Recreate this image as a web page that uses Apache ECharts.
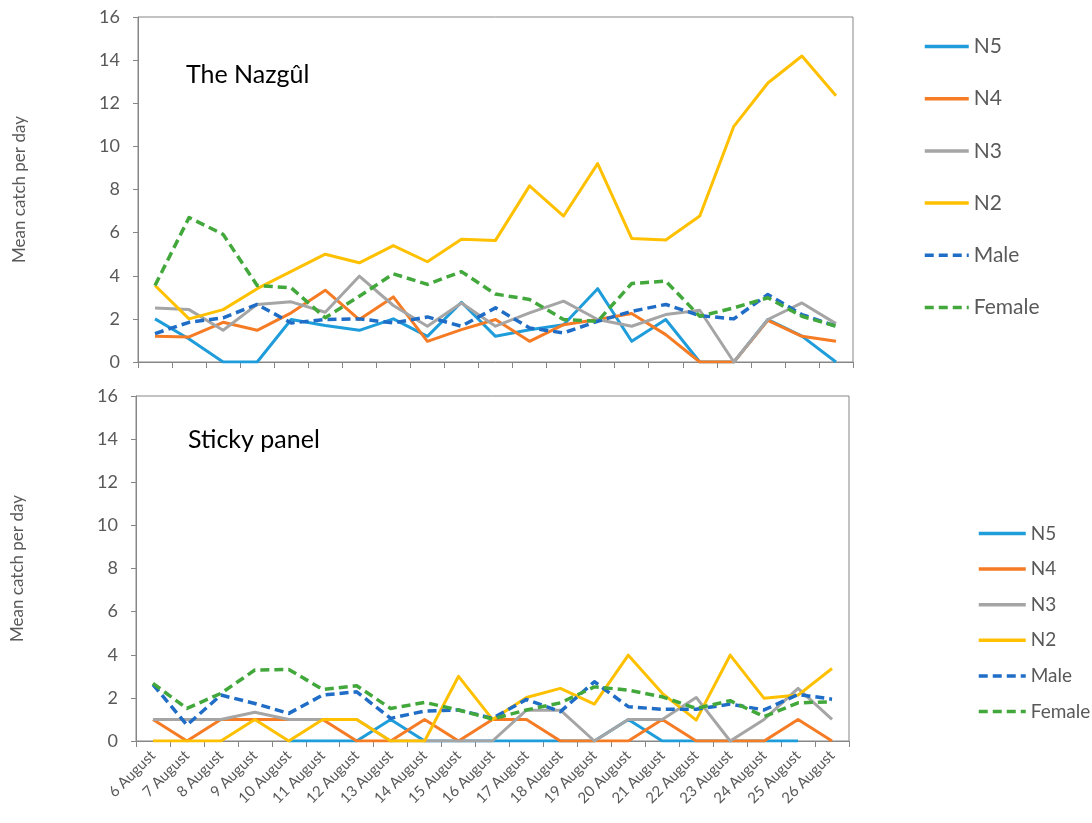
<!DOCTYPE html>
<html>
<head>
<meta charset="utf-8">
<title>Mean catch per day</title>
<script src="https://cdn.jsdelivr.net/npm/echarts@6/dist/echarts.min.js"></script>
<style>
  html, body { margin: 0; padding: 0; background: #fff; }
  #chart { width: 1092px; height: 823px; }
</style>
</head>
<body>
<div id="chart"></div>
<script>
// Sampling days
const days = ['6 August', '7 August', '8 August', '9 August', '10 August', '11 August', '12 August',
  '13 August', '14 August', '15 August', '16 August', '17 August', '18 August', '19 August',
  '20 August', '21 August', '22 August', '23 August', '24 August', '25 August', '26 August'];

// Y-axis ticks (both panels)
const yTicks = [0, 2, 4, 6, 8, 10, 12, 14, 16];

// Panel 1: The Nazgûl
const n5Top = [2.0, 1.07, 0, 0, 1.97, 1.69, 1.47, 2.0, 1.19, 2.77, 1.19, 1.5, 1.73, 3.4, 0.96, 1.97, 0, 0, 1.97, 1.2, 0];
const n4Top = [1.19, 1.16, 1.84, 1.47, 2.28, 3.33, 1.97, 3.02, 0.96, 1.5, 1.97, 0.96, 1.73, 1.97, 2.25, 1.27, 0, 0, 1.93, 1.19, 0.96];
const n3Top = [2.51, 2.43, 1.47, 2.67, 2.79, 2.31, 3.98, 2.62, 1.66, 2.74, 1.66, 2.28, 2.82, 1.97, 1.66, 2.2, 2.4, 0, 1.97, 2.74, 1.78];
const n2Top = [3.55, 2.0, 2.43, 3.4, 4.2, 5.0, 4.6, 5.4, 4.65, 5.69, 5.64, 8.17, 6.77, 9.2, 5.73, 5.66, 6.77, 10.93, 12.94, 14.19, 12.35];
const maleTop = [1.32, 1.84, 2.05, 2.67, 1.81, 1.97, 2.0, 1.81, 2.09, 1.66, 2.51, 1.58, 1.35, 1.89, 2.35, 2.67, 2.15, 2.0, 3.13, 2.2, 1.66];
const femaleTop = [3.55, 6.7, 5.92, 3.55, 3.44, 2.05, 3.05, 4.09, 3.6, 4.19, 3.15, 2.9, 1.97, 1.89, 3.64, 3.75, 2.12, 2.51, 2.98, 2.12, 1.66];

// Panel 2: Sticky panel
const n5Bot = [null, null, null, null, 0, 0, 0, 1, 0, 0, 0, 0, 0, 0, 1, 0, 0, 0, 0, 0, null];
const n4Bot = [1, 0, 1, 1, 1, 1, 0, 0, 1, 0, 1, 1, 0, 0, 0, 1, 0, 0, 0, 1, 0];
const n3Bot = [1, 1, 1, 1.33, 1, 1, 1, 0, 0, 0, 0, 1.43, 1.43, 0, 1, 1, 2.02, 0, 1, 2.44, 1];
const n2Bot = [0, 0, 0, 1, 0, 1, 1, 0, 0, 3, 1, 2.02, 2.44, 1.71, 3.98, 2.21, 0.97, 3.98, 1.98, 2.13, 3.36];
const maleBot = [2.62, 0.74, 2.13, 1.74, 1.28, 2.13, 2.28, 1.05, 1.39, 1.44, 1.05, 1.93, 1.36, 2.75, 1.59, 1.47, 1.47, 1.71, 1.44, 2.16, 1.94];
const femaleBot = [2.67, 1.51, 2.21, 3.29, 3.32, 2.39, 2.56, 1.51, 1.79, 1.44, 1.02, 1.44, 1.77, 2.51, 2.36, 2.05, 1.51, 1.87, 1.13, 1.77, 1.82];

const seriesNames = ['N5', 'N4', 'N3', 'N2', 'Male', 'Female'];
const colors = {
  N5: '#1f9ddb',
  N4: '#f57b25',
  N3: '#a5a5a5',
  N2: '#ffc000',
  Male: '#1f6dc6',
  Female: '#43a83c'
};

const FONT = 'Lato, "Open Sans", sans-serif';
const AXIS_COLOR = '#868686';
const TEXT_COLOR = '#595959';

function lineSeries(name, data, gridIdx) {
  const dashed = name === 'Male' || name === 'Female';
  return {
    name: name,
    type: 'line',
    xAxisIndex: gridIdx,
    yAxisIndex: gridIdx,
    data: data,
    symbol: 'none',
    connectNulls: false,
    animation: false,
    color: colors[name],
    lineStyle: {
      color: colors[name],
      width: dashed ? 3.5 : 3,
      type: dashed ? [9, 5] : 'solid',
      cap: 'butt',
      join: 'round'
    }
  };
}

function yAxis(gridIdx) {
  return {
    type: 'value',
    gridIndex: gridIdx,
    min: yTicks[0],
    max: yTicks[yTicks.length - 1],
    interval: yTicks[1] - yTicks[0],
    name: 'Mean catch per day',
    nameLocation: 'middle',
    nameGap: 110,
    nameTextStyle: { fontFamily: FONT, fontSize: 17, color: TEXT_COLOR },
    axisLine: { show: true, lineStyle: { color: AXIS_COLOR, width: 1 } },
    axisTick: { show: true, length: 5, lineStyle: { color: AXIS_COLOR } },
    axisLabel: { fontFamily: FONT, fontSize: 18, color: TEXT_COLOR, margin: 18 },
    splitLine: { show: false }
  };
}

function xAxis(gridIdx, showLabels) {
  return {
    type: 'category',
    gridIndex: gridIdx,
    data: days,
    boundaryGap: true,
    axisLine: { show: true, onZero: false, lineStyle: { color: AXIS_COLOR, width: 1 } },
    axisTick: { show: true, length: 6, interval: 0, lineStyle: { color: AXIS_COLOR } },
    axisLabel: {
      show: showLabels, interval: 0, rotate: 45, margin: 12,
      fontFamily: FONT, fontSize: 15, color: TEXT_COLOR
    },
    splitLine: { show: false }
  };
}

const topData = { N5: n5Top, N4: n4Top, N3: n3Top, N2: n2Top, Male: maleTop, Female: femaleTop };
const botData = { N5: n5Bot, N4: n4Bot, N3: n3Bot, N2: n2Bot, Male: maleBot, Female: femaleBot };

const series = [];
seriesNames.forEach(n => series.push(lineSeries(n, topData[n], 0)));
seriesNames.forEach(n => series.push(lineSeries(n, botData[n], 1)));

// Legend keys show only the line sample, no marker
const legendMarker = { color: 'rgba(0,0,0,0)', borderWidth: 0, opacity: 0 };
const legendLine = { width: 3.5 };

const chart = echarts.init(document.getElementById('chart'), null, { renderer: 'canvas' });
chart.setOption({
  animation: false,
  backgroundColor: '#ffffff',
  title: [
    { text: 'The Nazgûl', left: 181, top: 57,
      textStyle: { fontFamily: FONT, fontSize: 25, fontWeight: 'normal', color: '#000000' } },
    { text: 'Sticky panel', left: 183, top: 422,
      textStyle: { fontFamily: FONT, fontSize: 25, fontWeight: 'normal', color: '#000000' } }
  ],
  grid: [
    { left: 138, top: 17, width: 715, height: 345, show: true, borderColor: AXIS_COLOR, borderWidth: 1 },
    { left: 136, top: 396, width: 713, height: 345, show: true, borderColor: AXIS_COLOR, borderWidth: 1 }
  ],
  xAxis: [xAxis(0, false), xAxis(1, true)],
  yAxis: [yAxis(0), yAxis(1)],
  legend: [
    {
      orient: 'vertical', left: 918, top: 30,
      itemWidth: 44, itemHeight: 14, itemGap: 29.2,
      itemStyle: legendMarker,
      lineStyle: legendLine,
      data: seriesNames,
      textStyle: { fontFamily: FONT, fontSize: 21, color: TEXT_COLOR, lineHeight: 23 }
    },
    {
      orient: 'vertical', left: 972, top: 518,
      itemWidth: 47, itemHeight: 14, itemGap: 14.6,
      itemStyle: legendMarker,
      lineStyle: legendLine,
      data: seriesNames,
      textStyle: { fontFamily: FONT, fontSize: 19, color: TEXT_COLOR, lineHeight: 21 }
    }
  ],
  series: series
});
</script>
</body>
</html>
